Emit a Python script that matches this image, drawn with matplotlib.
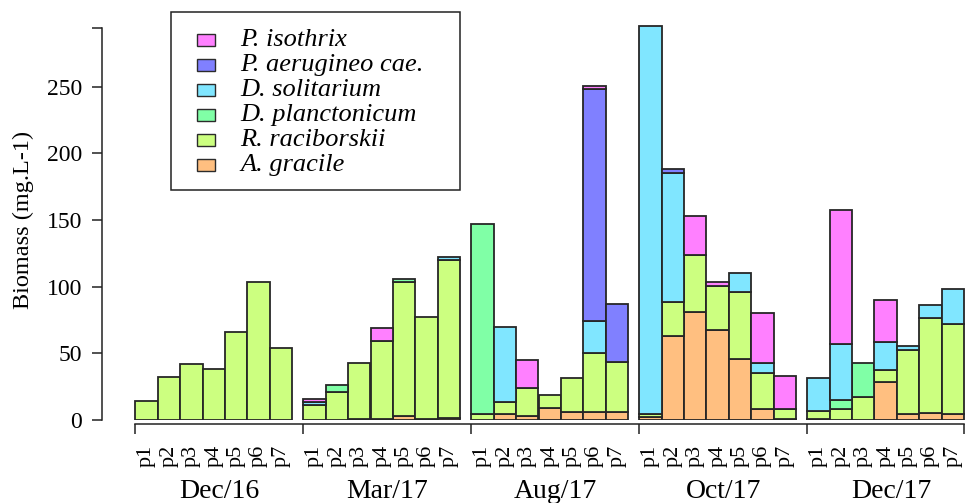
import matplotlib
matplotlib.use('Agg')
import matplotlib.pyplot as plt
from matplotlib.patches import Rectangle
import matplotlib.transforms as mtrans
import numpy as np

# ---------------- data ----------------
groups = ['Dec/16', 'Mar/17', 'Aug/17', 'Oct/17', 'Dec/17']
sites = ['p1', 'p2', 'p3', 'p4', 'p5', 'p6', 'p7']

# stacking order bottom -> top
A_gracile = [0, 0, 0, 0, 0, 0, 0,
             0, 0, 0.8, 0.8, 3, 0.8, 1.5,
             0, 4.25, 2.75, 8.75, 5.75, 5.75, 5.75,
             2, 62.75, 80.75, 67.75, 45.5, 8.25, 0.8,
             1, 0, 0, 28.25, 4.5, 5.25, 4.5]
R_raciborskii = [14, 32, 42, 38, 66, 103.5, 54,
                 11.3, 21.3, 41.7, 58.7, 100.3, 76.2, 118.7,
                 4.25, 9, 21, 9.75, 25.5, 44.25, 37.5,
                 2.75, 26, 43.25, 33, 50.25, 26.75, 7.5,
                 5.5, 8.5, 17, 9, 47.75, 71.25, 67.25]
D_planctonicum = [0, 0, 0, 0, 0, 0, 0,
                  0, 4.8, 0, 0, 2.7, 0, 0,
                  142.5, 0, 0, 0, 0, 0, 0,
                  0, 0, 0, 0, 0, 0, 0,
                  0, 6.25, 25.5, 0, 0, 0, 0]
D_solitarium = [0, 0, 0, 0, 0, 0, 0,
                2.5, 0, 0, 0, 0, 0, 1.75,
                0, 56.25, 0, 0, 0, 24.5, 0,
                290.75, 96.25, 0, 0, 14.25, 7.5, 0,
                24.75, 42, 0, 21, 3.5, 9.75, 26.25]
P_aerugineo = [0, 0, 0, 0, 0, 0, 0,
               0, 0, 0, 0, 0, 0, 0,
               0, 0, 0, 0, 0, 174, 43.5,
               0, 3, 0, 0, 0, 0, 0,
               0, 0, 0, 0, 0, 0, 0]
P_isothrix = [0, 0, 0, 0, 0, 0, 0,
              1.7, 0, 0, 9.25, 0, 0, 0,
              0, 0, 21, 0, 0, 2.25, 0,
              0, 0, 28.75, 2.5, 0, 37.5, 24.5,
              0, 100.5, 0, 31.75, 0, 0, 0]

series_names = ['A. gracile', 'R. raciborskii', 'D. planctonicum',
                'D. solitarium', 'P. aerugineo cae.', 'P. isothrix']
series_vals = [A_gracile, R_raciborskii, D_planctonicum,
               D_solitarium, P_aerugineo, P_isothrix]
series_colors = ['#FFBF80', '#CCFF80', '#80FFA6', '#80E6FF', '#8080FF', '#FF80FF']

yticks = [0, 50, 100, 150, 200, 250]
y_axis_top = 293.8

# ---------------- figure ----------------
W, H = 967, 503
fig = plt.figure(figsize=(W / 100, H / 100), dpi=100)
SERIF = ['Liberation Serif', 'DejaVu Serif']


def fx(px):
    return px / W


def fy(py):
    return 1 - py / H


ax = fig.add_axes([fx(102), fy(420), (967 - 102) / W, (420 - 20) / H])
unit = 22.4
x0 = 135.3
ax.set_xlim((102 - x0) / unit, (967 - x0) / unit)
ax.set_ylim(0, 300)

ngroup = len(groups)
nsite = len(sites)
pos = np.array([g * 7.5 + i for g in range(ngroup) for i in range(nsite)], dtype=float)

bottom = np.zeros(len(pos))
for vals, col in zip(series_vals, series_colors):
    v = np.array(vals, dtype=float)
    m = v > 0
    ax.bar(pos[m], v[m], width=1.0, bottom=bottom[m], align='edge',
           color=col, edgecolor='#262626', linewidth=1.3, zorder=2)
    bottom += v

# spines
for s in ['top', 'right']:
    ax.spines[s].set_visible(False)
ax.spines['left'].set_bounds(0, y_axis_top)
ax.spines['left'].set_color('#222222')
ax.spines['left'].set_linewidth(1.1)
ax.spines['bottom'].set_position(('outward', 3))
ax.spines['bottom'].set_bounds(0, 37)
ax.spines['bottom'].set_color('#222222')
ax.spines['bottom'].set_linewidth(1.1)

ax.set_yticks(yticks + [y_axis_top])
ax.set_yticklabels([str(t) for t in yticks] + [''], fontfamily=SERIF, fontsize=17)
ax.tick_params(axis='y', length=7.2, width=1.1, pad=7, color='#222222')

ax.set_xticks([0, 7.5, 15, 22.5, 30, 37])
ax.set_xticklabels([''] * 6)
ax.tick_params(axis='x', length=7, width=1.1, color='#222222')

ax.set_ylabel('Biomass (mg.L-1)', fontfamily=SERIF, fontsize=17.5)
ax.yaxis.set_label_coords((34 - 102) / (967 - 102), 0.5)

# site labels and group labels
tr = mtrans.blended_transform_factory(ax.transData, fig.transFigure)
for g in range(ngroup):
    for i in range(nsite):
        ax.text(g * 7.5 + i + 0.5, fy(445), sites[i], rotation=90,
                ha='center', va='top', transform=tr,
                fontfamily=SERIF, fontsize=16, clip_on=False)
    ax.text(g * 7.5 + 3.75, fy(498), groups[g], ha='center', va='baseline',
            transform=tr, fontfamily=SERIF, fontsize=20, clip_on=False)

# legend (drawn in figure pixel space)
lx0, ly0, lx1, ly1 = 171, 12, 460, 190
fig.add_artist(Rectangle((fx(lx0), fy(ly1)), (lx1 - lx0) / W, (ly1 - ly0) / H,
                         transform=fig.transFigure, facecolor='white',
                         edgecolor='#222222', linewidth=1.1, zorder=5))
leg_order = list(range(len(series_names)))[::-1]
for k, idx in enumerate(leg_order):
    yc = 40 + k * 25
    fig.add_artist(Rectangle((fx(197), fy(yc + 6)), 18 / W, 12 / H,
                             transform=fig.transFigure,
                             facecolor=series_colors[idx], edgecolor='#2b2b2b',
                             linewidth=1.0, zorder=6))
    fig.text(fx(240), fy(yc), series_names[idx], ha='left', va='center',
             fontfamily=SERIF, fontstyle='italic', fontsize=19, zorder=7)

fig.savefig('out.png', dpi=100)
